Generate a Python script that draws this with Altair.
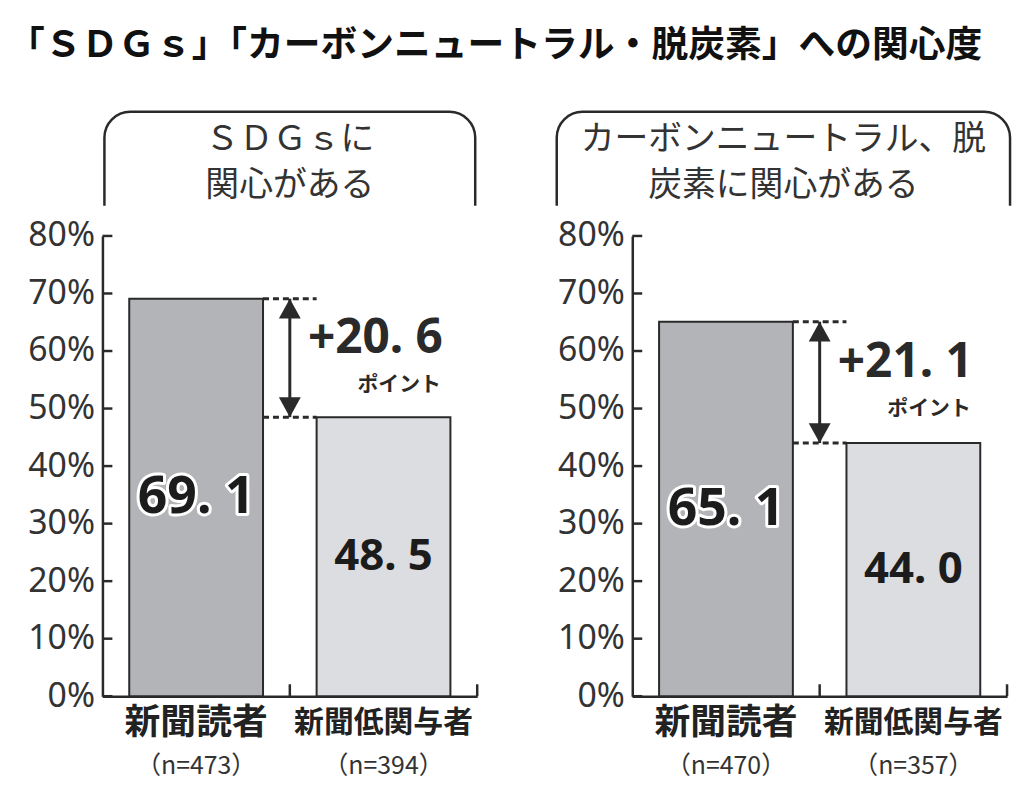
import altair as alt
import pandas as pd

# ---------------- data ----------------
TITLE = "「ＳＤＧｓ」「カーボンニュートラル・脱炭素」への関心度"
PANEL_HEADERS = [["ＳＤＧｓに", "関心がある"], ["カーボンニュートラル、脱", "炭素に関心がある"]]
CATEGORIES = ["新聞読者", "新聞低関与者"]
SAMPLE_SIZES = [["（n=473）", "（n=394）"], ["（n=470）", "（n=357）"]]
VALUES = [[69.1, 48.5], [65.1, 44.0]]
VALUE_LABELS = [["69. 1", "48. 5"], ["65. 1", "44. 0"]]
DIFF_LABELS = ["+20. 6", "+21. 1"]
DIFF_UNIT = "ポイント"
Y_TICKS = [0, 10, 20, 30, 40, 50, 60, 70, 80]

# ---------------- style ----------------
W, H = 377, 463
DARK, LIGHT = "#b3b4b8", "#dcdde0"
INK = "#2a2a2a"
GREY_TXT = "#333333"
BAR_HALF = 0.357
CJK = "Noto Sans CJK JP"
NUM_FONT = "Noto Sans"
# header boxes (pixel extents relative to each plot area)
BOXES = [(2, 375), (-76, 380)]
BOX_TOP, BOX_BOTTOM = -125, -29
HDR_LINE_Y = [-96, -50]

yscale = alt.Scale(domain=[0, 80], nice=False, zero=True)
xscale = alt.Scale(domain=[0, 2], nice=False, zero=False)
yaxis = alt.Axis(values=Y_TICKS, labelExpr="datum.value + '%'", title=None, ticks=False,
                 grid=False, domain=True, labelFont="Noto Sans", labelFontSize=34,
                 labelColor=GREY_TXT, labelPadding=8, minExtent=95, maxExtent=95,
                 domainColor=INK, domainWidth=2.5)
xaxis = alt.Axis(labels=False, ticks=False, title=None, grid=False, domain=True,
                 domainColor=INK, domainWidth=2.5)


def X(f):
    return alt.X(f, type="quantitative", scale=xscale, axis=xaxis)


def Y(f):
    return alt.Y(f, type="quantitative", scale=yscale, axis=yaxis)


def panel(p):
    vals = VALUES[p]
    bars = pd.DataFrame({"cat": CATEGORIES, "value": vals, "label": VALUE_LABELS[p],
                         "n": SAMPLE_SIZES[p]})
    bars["pos"] = bars.index + 0.5
    bars["x0"] = bars["pos"] - BAR_HALF
    bars["x1"] = bars["pos"] + BAR_HALF
    bars["base"] = 0.0
    bars["half"] = bars["value"] / 2
    bars["first"] = bars.index == 0

    rect = alt.Chart(bars).mark_rect(stroke=INK, strokeWidth=2).encode(
        x=X("x0"), x2="x1:Q", y=Y("value"), y2="base:Q",
        color=alt.Color("cat:N", scale=alt.Scale(domain=CATEGORIES, range=[DARK, LIGHT]),
                        legend=None))

    ticks_df = pd.DataFrame({"t": Y_TICKS})
    ytick = alt.Chart(ticks_df).mark_rule(color=INK, strokeWidth=2.5).encode(
        y=Y("t"), x=alt.value(0), x2=alt.value(10))

    bounds = pd.DataFrame({"b": [float(i + 1) for i in range(len(CATEGORIES))]})
    xtick = alt.Chart(bounds).mark_rule(color=INK, strokeWidth=2.5).encode(
        x=X("b"), y=alt.value(H), y2=alt.value(H - 12))

    hi, lo = vals[0], vals[1]
    dots = pd.DataFrame({"y": [hi, lo], "xa": [bars.x1[0]] * 2, "xb": [bars.x0[1]] * 2})
    dotted = alt.Chart(dots).mark_rule(color=INK, strokeWidth=3, strokeDash=[6, 4]).encode(
        x=X("xa"), x2="xb:Q", y=Y("y"))

    arrow = pd.DataFrame({"x": [1.0], "hi": [hi], "lo": [lo], "mid": [(hi + lo) / 2],
                          "diff": [DIFF_LABELS[p]], "unit": [DIFF_UNIT]})
    shaft = alt.Chart(arrow).mark_rule(color=INK, strokeWidth=3).encode(
        x=X("x"), y=Y("hi"), y2="lo:Q")
    head_up = alt.Chart(arrow).mark_point(shape="M0,-1L1.1,1L-1.1,1Z", filled=True, size=400,
                                          color=INK, opacity=1, yOffset=10).encode(
        x=X("x"), y=Y("hi"))
    head_dn = alt.Chart(arrow).mark_point(shape="M0,1L1.1,-1L-1.1,-1Z", filled=True, size=400,
                                          color=INK, opacity=1, yOffset=-10).encode(
        x=X("x"), y=Y("lo"))
    diff_txt = alt.Chart(arrow).mark_text(font=NUM_FONT, fontSize=48, fontWeight="bold",
                                          align="right", baseline="middle", dx=154, dy=-19,
                                          color=INK).encode(
        x=X("x"), y=Y("mid"), text="diff:N")
    unit_txt = alt.Chart(arrow).mark_text(font=CJK, fontSize=21, fontWeight="bold",
                                          align="right", baseline="middle", dx=152, dy=27,
                                          color=INK).encode(
        x=X("x"), y=Y("mid"), text="unit:N")

    size_cond = alt.condition("datum.first", alt.value(52), alt.value(44))
    lab_out = alt.Chart(bars[bars["first"]]).mark_text(
        font=NUM_FONT, fontSize=52, fontWeight="bold", baseline="middle", stroke="white",
        strokeWidth=6, strokeJoin="round", color="white").encode(
        x=X("pos"), y=Y("half"), text="label:N")
    lab = alt.Chart(bars).mark_text(font=NUM_FONT, fontWeight="bold", baseline="middle",
                                    color="#1c1c1c").encode(
        x=X("pos"), y=Y("half"), text="label:N", size=size_cond)

    cat_txt = alt.Chart(bars).mark_text(font=CJK, fontWeight="bold", baseline="middle",
                                        color="#222").encode(
        x=X("pos"), y=alt.value(H + 27), text="cat:N",
        size=alt.condition("datum.first", alt.value(36), alt.value(30)))
    n_txt = alt.Chart(bars).mark_text(font=CJK, fontSize=25, baseline="middle",
                                      color=GREY_TXT).encode(
        x=X("pos"), y=alt.value(H + 70), text="n:N")

    bx1, bx2 = BOXES[p]
    hdr = pd.DataFrame({"line": PANEL_HEADERS[p]})
    box = alt.Chart(hdr.iloc[[0]]).mark_rect(
        fill=None, filled=False, stroke=INK, strokeWidth=2.5,
        cornerRadiusTopLeft=26, cornerRadiusTopRight=26).encode(
        x=alt.value(bx1), x2=alt.value(bx2), y=alt.value(BOX_TOP), y2=alt.value(BOX_BOTTOM))
    box_cut = alt.Chart(hdr.iloc[[0]]).mark_rule(color="white", strokeWidth=5).encode(
        x=alt.value(bx1 - 3), x2=alt.value(bx2 + 3), y=alt.value(BOX_BOTTOM + 1))
    hdr_layers = [
        alt.Chart(hdr.iloc[[k]]).mark_text(font=CJK, fontSize=34, baseline="middle",
                                           color=GREY_TXT).encode(
            x=alt.value((bx1 + bx2) / 2), y=alt.value(HDR_LINE_Y[k]), text="line:N")
        for k in range(len(PANEL_HEADERS[p]))
    ]

    return alt.layer(rect, ytick, xtick, dotted, shaft, head_up, head_dn, diff_txt, unit_txt,
                     lab_out, lab, cat_txt, n_txt, box, box_cut, *hdr_layers).properties(
        width=W, height=H)


chart = alt.hconcat(panel(0), panel(1), spacing=57).properties(
    title=alt.TitleParams(TITLE, anchor="start", font=CJK, fontSize=37, fontWeight="bold",
                          color="#111", offset=46),
    padding={"left": 0, "top": 16, "right": 0, "bottom": 2},
).configure_view(stroke=None)

chart.save("out.html", embed_options={"renderer": "svg", "actions": False})
